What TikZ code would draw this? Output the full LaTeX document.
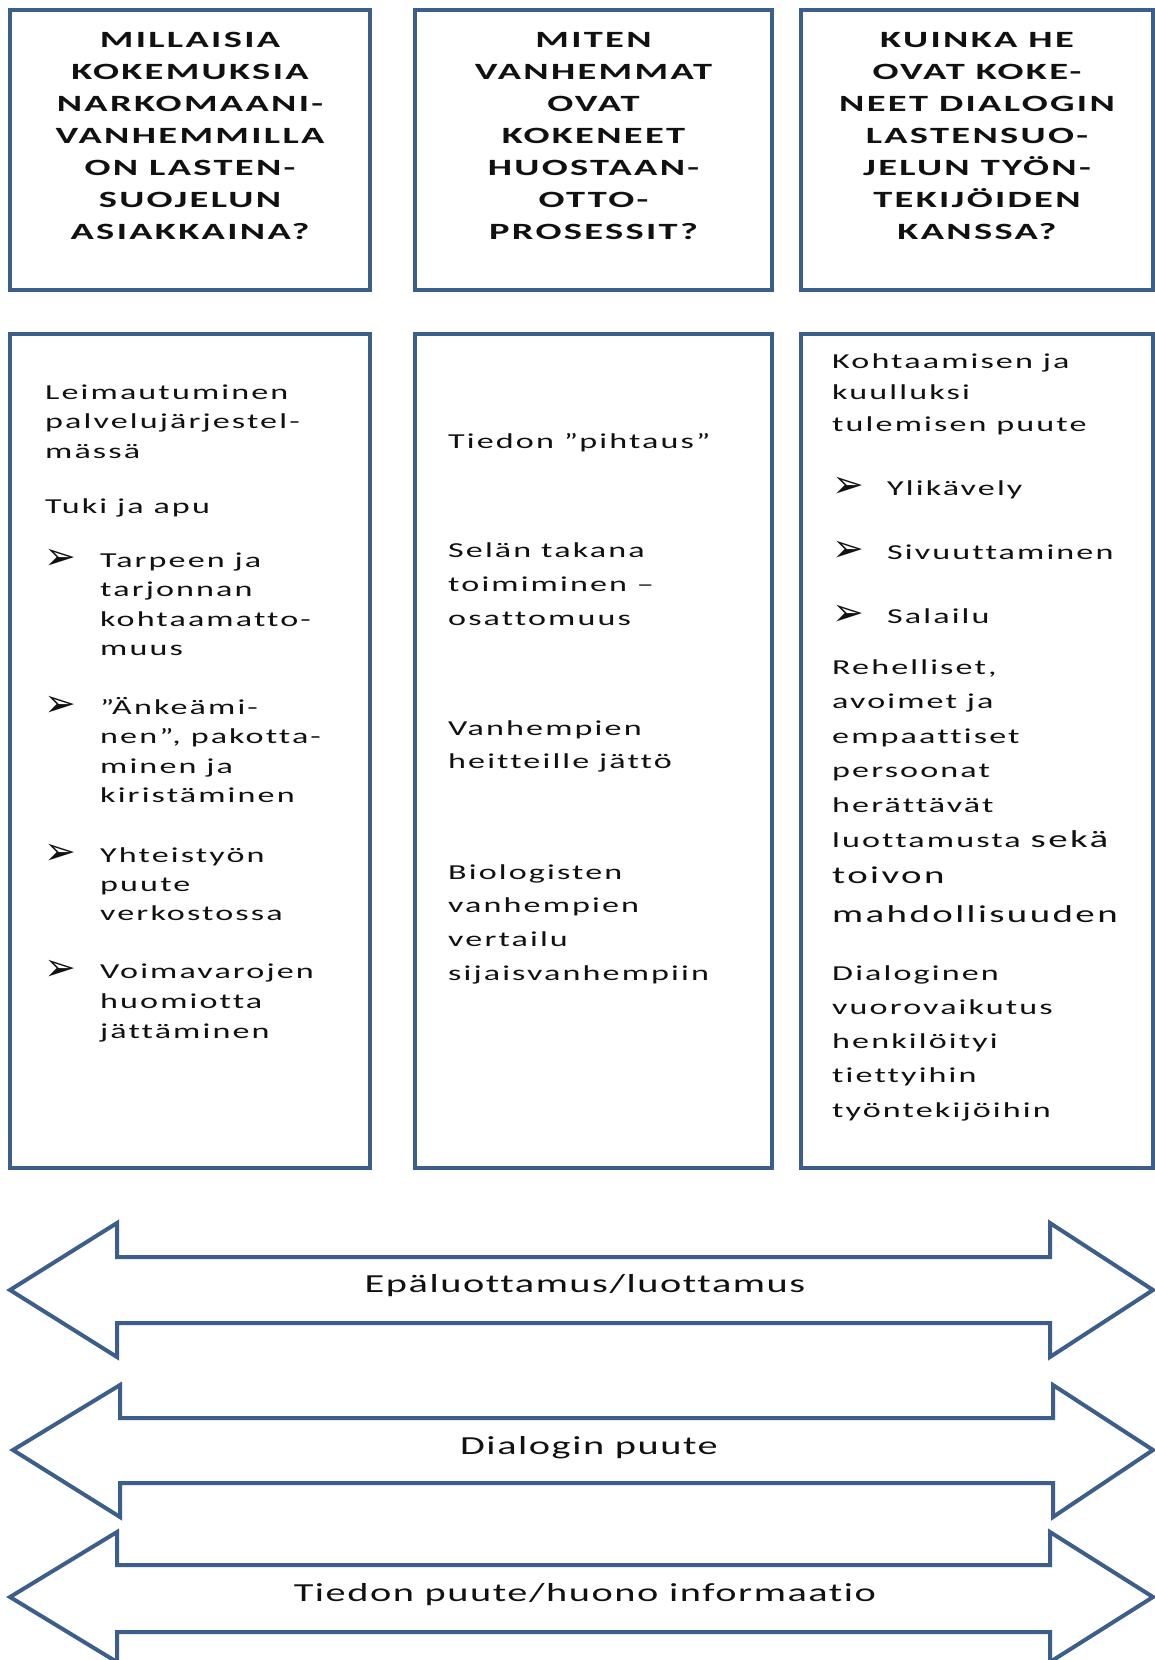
\documentclass[tikz,border=0pt]{standalone}
\usepackage{fontspec}
\setmainfont{Carlito}
\newfontfamily\headfont[FakeStretch=1.65,LetterSpace=10,Ligatures=NoCommon]{Carlito}
\newfontfamily\bodyfont[FakeStretch=1.6,LetterSpace=10,Ligatures=NoCommon]{Carlito}
\newfontfamily\arrfont[FakeStretch=1.55,LetterSpace=6,Ligatures=NoCommon]{Carlito}
\newfontfamily\bulfont{DejaVu Sans}
\definecolor{bd}{HTML}{3B5E8C}
\definecolor{ink}{HTML}{111111}
\newcommand\textlines[6]{\foreach \mytext [count=\myi from 0] in {#6}{\node[#2] (#1\myi) at (#3,#4+#5*\myi) {\mytext};}}
\begin{document}
\begin{tikzpicture}[x=1pt,y=-1pt,
  box/.style={draw=bd,line width=4pt,fill=white,inner sep=0pt},
  hd/.style={font=\headfont\bfseries\fontsize{23.3}{28}\selectfont,text=ink,anchor=base,inner sep=0pt},
  tx/.style={font=\bodyfont\fontsize{21.3}{24}\selectfont,text=ink,anchor=base west,inner sep=0pt},
  big/.style={font=\bodyfont\fontsize{24.3}{28}\selectfont,text=ink,anchor=base west,inner sep=0pt},
  bul/.style={font=\bulfont\fontsize{38}{40}\selectfont,text=ink,anchor=base west,inner sep=0pt},
  lab/.style={font=\arrfont\fontsize{26}{30}\selectfont,text=ink,anchor=base,inner sep=0pt},
  arr/.style={draw=bd,line width=4pt,fill=white,line join=miter}]
\useasboundingbox (0,0) rectangle (1155,1660);
\fill[white] (0,0) rectangle (1155,1660);
\clip (0,0) rectangle (1155,1660);

% question boxes
\node[box,minimum width=360pt,minimum height=280pt] (q1) at (190,150) {};
\node[box,minimum width=357pt,minimum height=280pt] (q2) at (593.5,150) {};
\node[box,minimum width=352pt,minimum height=280pt] (q3) at (977,150) {};
% answer boxes
\node[box,minimum width=360pt,minimum height=834pt] (a1) at (190,751) {};
\node[box,minimum width=357pt,minimum height=834pt] (a2) at (593.5,751) {};
\node[box,minimum width=352pt,minimum height=834pt] (a3) at (977,751) {};

% headings
\textlines{ha}{hd}{190}{47}{32}{MILLAISIA,KOKEMUKSIA,NARKOMAANI-,VANHEMMILLA,ON LASTEN-,SUOJELUN,ASIAKKAINA?}
\textlines{hb}{hd}{593.5}{47}{32}{MITEN,VANHEMMAT,OVAT,KOKENEET,HUOSTAAN-,OTTO-,PROSESSIT?}
\textlines{hc}{hd}{977}{47}{32}{KUINKA HE,OVAT KOKE-,NEET DIALOGIN,LASTENSUO-,JELUN TYÖN-,TEKIJÖIDEN,KANSSA?}

% left column
\textlines{la}{tx}{45}{399}{29.5}{Leimautuminen,palvelujärjestel-,mässä}
\node[tx] (lb) at (45,513) {Tuki ja apu};
\node[bul] (lb1) at (44,569) {➢};
\textlines{lc}{tx}{100}{567}{29.5}{Tarpeen ja,tarjonnan,kohtaamatto-,muus}
\node[bul] (lb2) at (44,716) {➢};
\textlines{ld}{tx}{100}{714}{29.5}{”Änkeämi-,{nen”, pakotta-},minen ja,kiristäminen}
\node[bul] (lb3) at (44,864) {➢};
\textlines{le}{tx}{100}{862}{29.3}{Yhteistyön,puute,verkostossa}
\node[bul] (lb4) at (44,980) {➢};
\textlines{lf}{tx}{100}{978}{30}{Voimavarojen,huomiotta,jättäminen}

% middle column
\node[tx] (ma) at (448,448) {Tiedon ”pihtaus”};
\textlines{mb}{tx}{448}{557}{34}{Selän takana,toimiminen –,osattomuus}
\textlines{mc}{tx}{448}{735}{33}{Vanhempien,heitteille jättö}
\textlines{md}{tx}{448}{879}{33.7}{Biologisten,vanhempien,vertailu,sijaisvanhempiin}

% right column
\textlines{ra}{tx}{832}{368}{31.5}{Kohtaamisen ja,kuulluksi,tulemisen puute}
\node[bul] (rb1) at (832,497) {➢};
\node[tx] (rc1) at (887,495) {Ylikävely};
\node[bul] (rb2) at (832,561) {➢};
\node[tx] (rc2) at (887,559) {Sivuuttaminen};
\node[bul] (rb3) at (832,625) {➢};
\node[tx] (rc3) at (887,623) {Salailu};
\textlines{rd}{tx}{832}{674}{34.5}{{Rehelliset,},avoimet ja,empaattiset,persoonat,herättävät}
\node[tx] (re) at (832,847) {luottamusta {\fontsize{24.3}{28}\selectfont sekä}};
\node[big] (rf) at (832,883) {toivon};
\node[big] (rg) at (832,922) {mahdollisuuden};
\textlines{rh}{tx}{832}{980}{34.3}{Dialoginen,vuorovaikutus,henkilöityi,tiettyihin,työntekijöihin}

% double arrows
\draw[arr] (10,1290) -- (117,1223) -- (117,1257) -- (1050,1257) -- (1050,1223) -- (1153,1290)
  -- (1050,1357) -- (1050,1323) -- (117,1323) -- (117,1357) -- cycle;
\node[lab] (t1) at (585,1292) {Epäluottamus/luottamus};
\draw[arr] (13,1450) -- (120,1385) -- (120,1418) -- (1053,1418) -- (1053,1385) -- (1153,1450)
  -- (1053,1517) -- (1053,1483) -- (120,1483) -- (120,1517) -- cycle;
\node[lab] (t2) at (589,1454) {Dialogin puute};
\draw[arr] (10,1597) -- (117,1532) -- (117,1565) -- (1050,1565) -- (1050,1532) -- (1153,1597)
  -- (1050,1662) -- (1050,1632) -- (117,1632) -- (117,1662) -- cycle;
\node[lab] (t3) at (585,1601) {Tiedon puute/huono informaatio};
\end{tikzpicture}
\end{document}
